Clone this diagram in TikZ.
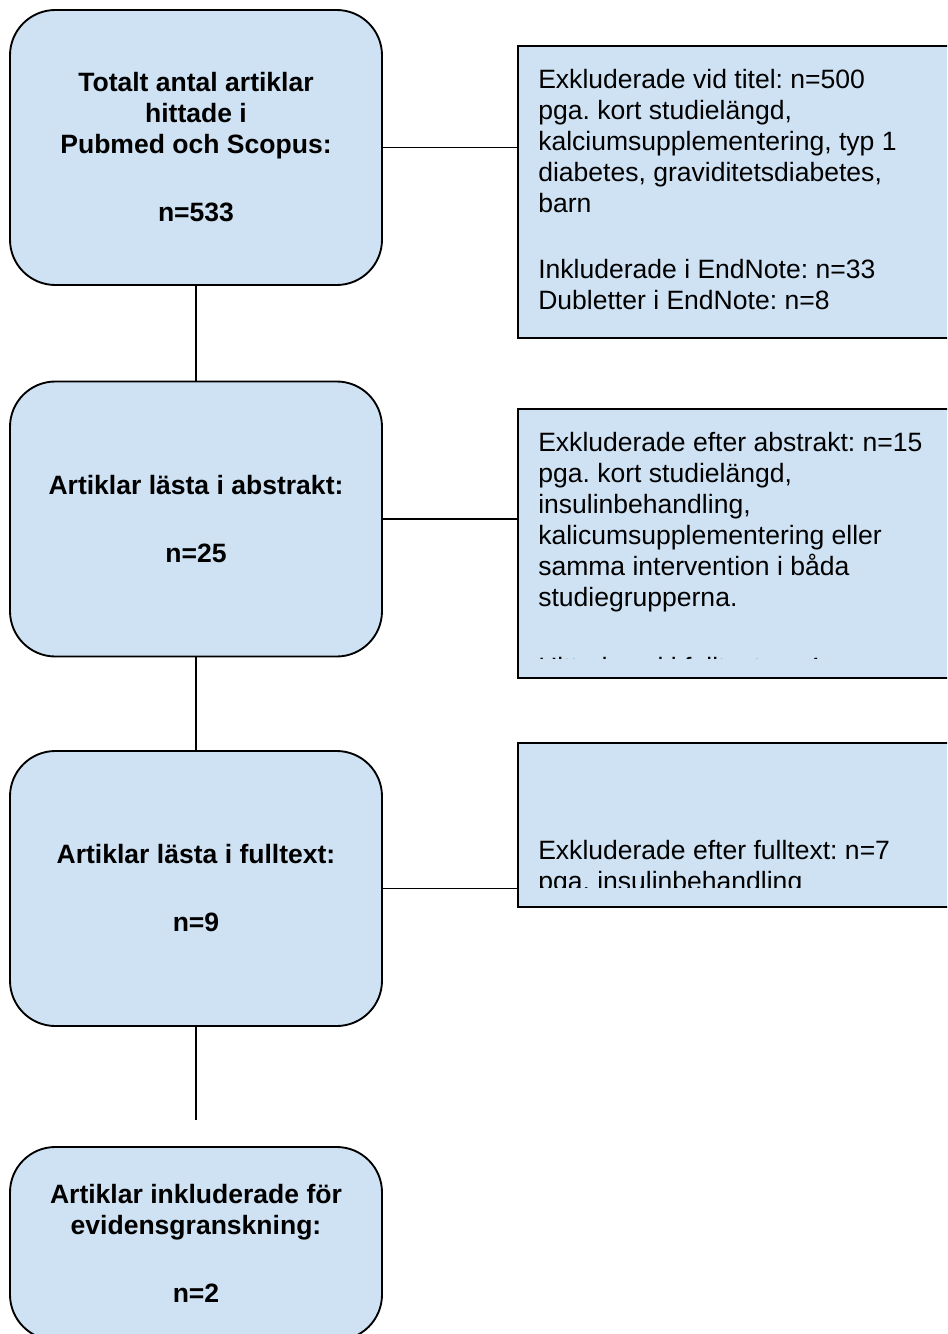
\documentclass[tikz,border=0pt]{standalone}
\usepackage{fontspec}
\setmainfont{Liberation Sans}
\definecolor{boxblue}{HTML}{CFE2F3}
\frenchspacing

\begin{document}
\begin{tikzpicture}[
    x = 0.75pt,
    y = -0.75pt,
    stage/.style = {
        draw,
        fill = boxblue,
        line width = 1.4pt,
        rounded corners = 34pt,
        minimum width = 279pt,
        minimum height = 206.25pt,
        inner sep = 0pt,
        align = center,
        font = \fontsize{19.9pt}{23.25pt}\selectfont\bfseries
    },
    excl/.style = {
        draw,
        fill = boxblue,
        line width = 1.4pt,
        minimum width = 352.5pt,
        inner sep = 0pt,
        anchor = north west
    },
    excltext/.style = {
        align = left,
        anchor = base west,
        inner sep = 0pt,
        font = \fontsize{19.9pt}{23.25pt}\selectfont
    },
    link/.style = {line width = 1.4pt}
]

\clip (0, 0) rectangle (947, 1334);

% Stage 1: search
\node[stage] (total) at (196, 147.5) {
    Totalt antal artiklar \\
    hittade i \\
    Pubmed och Scopus: \\[27.75pt]
    n=533
};

% Stage 2: abstract
\node[stage] (abstrakt) at (196, 519) {
    Artiklar lästa i abstrakt: \\[27.75pt]
    n=25
};

% Stage 3: full text
\node[stage] (fulltext) at (196, 888.5) {
    Artiklar lästa i fulltext: \\[27.75pt]
    n=9
};

% Stage 4: included
\node[stage, minimum height = 144.75pt] (inkl) at (196, 1243.5) {
    Artiklar inkluderade för \\
    evidensgranskning: \\[27.75pt]
    n=2
};

% Exclusion boxes (text placed by its last baseline)
\node[excl, minimum height = 219pt] (exclA) at (517, 45) {};
\node[excl, minimum height = 201.75pt] (exclB) at (517, 408) {};
\node[excl, minimum height = 123pt] (exclC) at (517, 742) {};

\begin{scope}
    \clip (exclA.north west) rectangle ([yshift = 15pt]exclA.south east);
    \node[excltext] (textA) at (538, 309) {
        Exkluderade vid titel: n=500 \\
        pga. kort studielängd, \\
        kalciumsupplementering, typ 1 \\
        diabetes, graviditetsdiabetes, \\
        barn \\[26.25pt]
        Inkluderade i EndNote: n=33 \\
        Dubletter i EndNote: n=8
    };
\end{scope}

\begin{scope}
    \clip (exclB.north west) rectangle ([yshift = 15pt]exclB.south east);
    \node[excltext] (textB) at (538, 676) {
        Exkluderade efter abstrakt: n=15 \\
        pga. kort studielängd, \\
        insulinbehandling, \\
        kalicumsupplementering eller \\
        samma intervention i båda \\
        studiegrupperna. \\[29.25pt]
        Hittades ej i fulltext: n=4
    };
\end{scope}

\begin{scope}
    \clip (exclC.north west) rectangle ([yshift = 15pt]exclC.south east);
    \node[excltext] (textC) at (538, 890) {
        Exkluderade efter fulltext: n=7 \\
        pga. insulinbehandling
    };
\end{scope}

% Flow lines
\coordinate (end) at (196, 1120);
\draw[link] (total) -- (abstrakt);
\draw[link] (abstrakt) -- (fulltext);
\draw[link] (fulltext.south) -- (end);

\draw[link] (total.east) -- (total.east -| exclA.west);
\draw[link] (abstrakt.east) -- (abstrakt.east -| exclB.west);
\draw[link] (fulltext.east) -- (fulltext.east -| exclC.west);

\end{tikzpicture}
\end{document}
